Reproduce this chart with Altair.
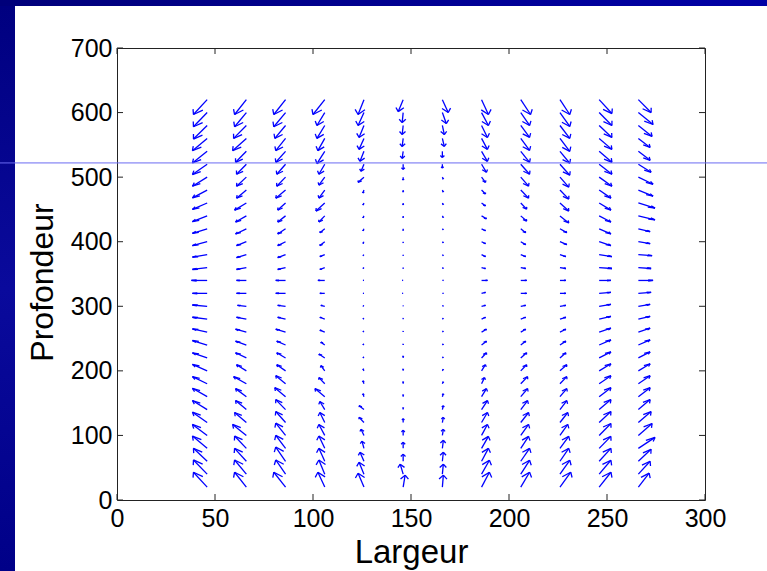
import altair as alt
import pandas as pd

# ---- data -----------------------------------------------------------------
COLUMNS_X = [46, 66, 86, 106, 126, 146, 166, 186, 206, 226, 246, 266]
DEPTHS = [620, 600, 580, 560, 540, 520, 500, 480, 460, 440, 420, 400, 380, 360,
          340, 320, 300, 280, 260, 240, 220, 200, 180, 160, 140, 120, 100, 80,
          60, 40, 20]

# horizontal vector components (data units), one list per column, top row first
U = [
    [-7, -7, -7, -7.5, -7.5, -7.5, -7.5, -7.5, -7.5, -7.5, -7.5, -7.5, -7.5, -7.5, -8, -7.5,
     -7.5, -7.5, -7.5, -7.5, -7.5, -7.5, -7.5, -7.5, -7.5, -7.5, -7.5, -7.5, -7, -7, -7],
    [-6, -6, -6.5, -7, -5.5, -5, -5, -5, -6, -5.5, -5.5, -5, -5, -5, -5, -5, -4.5, -5, -5.5,
     -5.5, -5.5, -5, -6.5, -5.5, -5.5, -6, -7, -6, -6, -6, -6],
    [-6, -6, -5.5, -5, -5, -4.5, -4.5, -5, -4, -4, -4, -4, -4, -4, -5, -5, -4, -4, -5, -4.5,
     -4.5, -4.5, -5, -5.5, -5, -5, -5, -5, -5, -5, -6],
    [-6, -4, -4, -3.5, -4, -3, -3, -3, -4.5, -3, -2.5, -2.5, -2.5, -2.5, -3.5, -2.5, -2, -2.5,
     -2.5, -2, -3, -2, -3, -5, -2.5, -2.5, -3, -3, -3, -3, -3.5],
    [-3, -3, -2.5, -2.5, -2, -1.5, -3, -0.5, -0.5, -0.5, -0.5, -0.5, -0.5, -0.5, -0.5, -0.5,
     -0.5, -0.5, -0.5, -0.5, -0.5, -0.5, -0.5, -0.5, -2.5, -2.5, -1.5, -1, -2, -2.5, -3],
    [-2.5, -0.5, -0.5, -0.5, -0.5, 0, 0, 0, 0, 0, 0, 0, 0, 0, -0.5, -0.5, 0, 0, 0, 0, 0, 0,
     0, 0, 0, 0, 0, 0, 0, -1.5, 1],
    [3, 2, 1, 1, 0, 0, 0.5, 0.5, 0.5, 0.5, 0.5, 0.5, 0.5, 0.5, 0.5, 0.5, 0.5, 0.5, 0.5, 0.5,
     0.5, 0.5, 0.5, 0.5, 0.5, 0.5, 0.5, 0.5, 0.5, 0.5, 0.5],
    [3.5, 3.5, 3, 3, 3, 2.5, 2, 2, 2, 2.5, 2, 2, 2, 2, 3, 2, 2, 2, 2.5, 2.5, 2.5, 2, 1.5, 2.5,
     3, 3, 3, 3.5, 3.5, 4, 4],
    [5, 4.5, 4.5, 4.5, 4.5, 4.5, 4, 4, 3, 3, 2.5, 2.5, 2.5, 2.5, 3, 3, 2.5, 2.5, 2.5, 2.5, 3,
     3, 3.5, 3.5, 3.5, 4, 4, 4, 4.5, 4.5, 4.5],
    [5, 5, 5, 5, 5, 5, 4.5, 4.5, 4.5, 4.5, 3.5, 3.5, 3, 3, 3, 3, 3, 3, 3, 3, 3, 3.5, 3.5, 3.5,
     3.5, 4, 4, 4.5, 4.5, 5, 5.5],
    [6.5, 6.5, 6.5, 6.5, 6.5, 6.5, 6.5, 6, 6, 6, 6, 6, 6.5, 6.5, 6, 6, 6, 6, 6, 6, 6, 6, 6, 6,
     6, 6, 6, 6, 6, 6, 6],
    [6.5, 7.5, 7, 6, 6, 6.5, 7.5, 7.5, 8.5, 8.5, 6, 6, 7, 6.5, 7.5, 6.5, 6, 6, 6, 6, 6, 6, 6,
     6, 6, 6.5, 7, 8.5, 6.5, 6, 5.5],
]

# vertical vector components (data units), one list per column, top row first
V = [
    [-23, -22, -21, -19, -18, -16, -14, -12, -10, -9, -7, -6, -4, -3, 0, 0, 2, 3, 5, 7, 8, 10,
     11, 13, 14, 16, 17, 19, 20, 22, 23],
    [-23, -22, -20, -19, -17, -15.5, -14, -12.5, -11, -9.5, -8, -6, -4.5, -3, 0, 0, 1.5, 3,
     4.5, 6, 8, 9.5, 11, 12.5, 14, 15.5, 17, 19, 20, 22, 23],
    [-23, -22, -20, -19, -17, -15.5, -14, -12.5, -11, -9.5, -8, -6, -4.5, -3, 0, 0, 1.5, 3,
     4.5, 6, 8, 9.5, 12.5, 14, 15.5, 17, 19, 20, 22, 22, 23],
    [-23, -20, -20, -19, -19, -15.5, -12.5, -12.5, -12.5, -9.5, -6, -6, -3, -3, 0, 0, 1.5, 3,
     3, 4.5, 6, 8, 9.5, 12.5, 12.5, 15.5, 17, 19, 20, 22, 23],
    [-23, -20, -18.5, -17, -15.5, -11, -8, -4.5, -3, -3, -3, -2.5, -1.5, -1.5, 0, 0, 1, 1.5,
     1.5, 1.5, 1.5, 3, 4.5, 4.5, 6, 8, 9.5, 11, 14, 18.5, 21.5],
    [-18.5, -15.5, -14, -12.5, -11, -8, -4.5, -3, -3, -2.5, -2.5, -1.5, -1.5, -1.5, 0, 0, 1,
     1.5, 1.5, 1.5, 3, 3, 3, 3, 3, 6, 8, 9.5, 11, 15.5, 18.5],
    [-20, -17, -14, -12.5, -9.5, -6, -3, -3, -2.5, -2.5, -1.5, -1.5, -1.5, -1.5, 0, 0, 1, 1.5,
     1.5, 1.5, 1.5, 2.5, 3, 4.5, 6, 8, 9.5, 12.5, 14, 15.5, 18.5],
    [-23, -20, -18.5, -17, -15.5, -12.5, -8, -6, -4.5, -4.5, -3, -3, -3, -1.5, 0, 1.5, 1.5, 3,
     4.5, 6, 8, 9.5, 9.5, 12.5, 14, 15.5, 17, 18.5, 20, 21.5, 23],
    [-23, -20, -18.5, -18.5, -17, -15.5, -14, -12.5, -9.5, -8, -6, -4.5, -3, -1.5, 0, 0, 1.5,
     3, 4.5, 6, 8, 9.5, 11, 12.5, 14, 15.5, 17, 18.5, 20, 21.5, 23],
    [-23, -21.5, -20, -20, -18.5, -17, -15.5, -14, -12.5, -11, -6, -4.5, -3, -1.5, 0, 0, 1.5,
     3, 4.5, 6, 8, 9.5, 11, 12.5, 14, 15.5, 17, 18.5, 20, 21.5, 23],
    [-21.5, -20, -18.5, -17, -17, -15.5, -14, -12.5, -11, -9.5, -8, -6, -3, -1.5, 0, 1.5, 3,
     4.5, 6, 8, 9.5, 11, 12.5, 14, 15.5, 17, 18.5, 18.5, 20, 21.5, 23],
    [-20, -18.5, -17, -14, -14, -12.5, -11, -9.5, -8, -6, -4.5, -3, -1.5, -1.5, 0, 1.5, 3, 4.5,
     6, 8, 9.5, 11, 12.5, 14, 15.5, 17, 18.5, 17, 18.5, 20, 21.5],
]

X_TICKS = [0, 50, 100, 150, 200, 250, 300]
Y_TICKS = [0, 100, 200, 300, 400, 500, 600, 700]
SLIDE_LINE_DEPTH = 522

# ---- build quiver segments (shaft + two head barbs, MATLAB style) ----------
ALPHA, BETA = 0.33, 0.33
segs = []
for ci, x0 in enumerate(COLUMNS_X):
    for ri, y0 in enumerate(DEPTHS):
        u, v = U[ci][ri], V[ci][ri]
        tx, ty = x0 + u, y0 + v
        segs.append(dict(x=x0, y=y0, x2=tx, y2=ty))
        segs.append(dict(x=tx - ALPHA * (u + BETA * v), y=ty - ALPHA * (v - BETA * u), x2=tx, y2=ty))
        segs.append(dict(x=tx - ALPHA * (u - BETA * v), y=ty - ALPHA * (v + BETA * u), x2=tx, y2=ty))
seg_df = pd.DataFrame(segs)

W, H = 588, 452
FONT = "Liberation Sans"

XS = alt.Scale(domain=[0, 300], nice=False, zero=False)
YS = alt.Scale(domain=[0, 700], nice=False, zero=False)

XAXIS = alt.Axis(values=X_TICKS, ticks=False, domain=False, grid=False, zindex=1,
                 labelFont=FONT, labelFontSize=25, labelColor="black", labelPadding=6,
                 labelFlush=False, labelOverlap=False,
                 title="Largeur", titleFont=FONT, titleFontSize=33, titleFontWeight="normal",
                 titleColor="black", titleX=W / 2, titleY=52, titleBaseline="middle",
                 titleAlign="center")
YAXIS = alt.Axis(values=Y_TICKS, ticks=False, domain=False, grid=False, zindex=1,
                 labelFont=FONT, labelFontSize=25, labelColor="black", labelPadding=5,
                 labelFlush=False, labelOverlap=False,
                 title="Profondeur", titleFont=FONT, titleFontSize=32, titleFontWeight="normal",
                 titleColor="black", titleAngle=270, titleX=-75, titleY=234,
                 titleBaseline="middle", titleAlign="center")

arrows = alt.Chart(seg_df).mark_rule(color="#0000FF", strokeWidth=1.3).encode(
    x=alt.X("x:Q", scale=XS, axis=XAXIS),
    y=alt.Y("y:Q", scale=YS, axis=YAXIS),
    x2="x2:Q",
    y2="y2:Q",
)

xt = pd.DataFrame({"t": X_TICKS})
yt = pd.DataFrame({"t": Y_TICKS})
TICK_COL = "#222222"
ticks_bottom = alt.Chart(xt).mark_rule(color=TICK_COL, strokeWidth=1).encode(
    x=alt.X("t:Q", scale=XS, axis=XAXIS), y=alt.value(H), y2=alt.value(H - 6))
ticks_top = alt.Chart(xt).mark_rule(color=TICK_COL, strokeWidth=1).encode(
    x=alt.X("t:Q", scale=XS, axis=XAXIS), y=alt.value(0), y2=alt.value(6))
ticks_left = alt.Chart(yt).mark_rule(color=TICK_COL, strokeWidth=1).encode(
    y=alt.Y("t:Q", scale=YS, axis=YAXIS), x=alt.value(0), x2=alt.value(6))
ticks_right = alt.Chart(yt).mark_rule(color=TICK_COL, strokeWidth=1).encode(
    y=alt.Y("t:Q", scale=YS, axis=YAXIS), x=alt.value(W), x2=alt.value(W - 6))

# slide decoration: blue frame bands and thin horizontal line
top_band = alt.Chart(pd.DataFrame({"a": [0]})).mark_rect(
    color=alt.Gradient(gradient="linear", x1=0, x2=1, y1=0, y2=0,
                       stops=[alt.GradientStop(color="#00007A", offset=0),
                              alt.GradientStop(color="#0000A6", offset=1)])
).encode(x=alt.value(-117), x2=alt.value(650), y=alt.value(-48), y2=alt.value(-42))
left_band = alt.Chart(pd.DataFrame({"a": [0]})).mark_rect(
    color=alt.Gradient(gradient="linear", x1=0, x2=0, y1=0, y2=1,
                       stops=[alt.GradientStop(color="#000080", offset=0),
                              alt.GradientStop(color="#0A0A9C", offset=0.5),
                              alt.GradientStop(color="#000088", offset=1)])
).encode(x=alt.value(-117), x2=alt.value(-102), y=alt.value(-42), y2=alt.value(523))

slide_line = alt.Chart(pd.DataFrame({"a": [0]})).mark_rule(color="#6B6BF2", strokeWidth=1).encode(
    x=alt.value(-117), x2=alt.value(650),
    y=alt.Y(datum=SLIDE_LINE_DEPTH, scale=YS, axis=YAXIS))

chart = alt.layer(
    top_band, left_band, arrows,
    ticks_bottom, ticks_top, ticks_left, ticks_right, slide_line
).properties(
    width=W, height=H,
    padding={"left": 117, "top": 48, "right": 62, "bottom": 71},
    autosize=alt.AutoSizeParams(type="none"),
).configure(background="white").configure_view(stroke="#222222", strokeWidth=1)

chart.save("out.html", embed_options={"renderer": "svg", "actions": False})
